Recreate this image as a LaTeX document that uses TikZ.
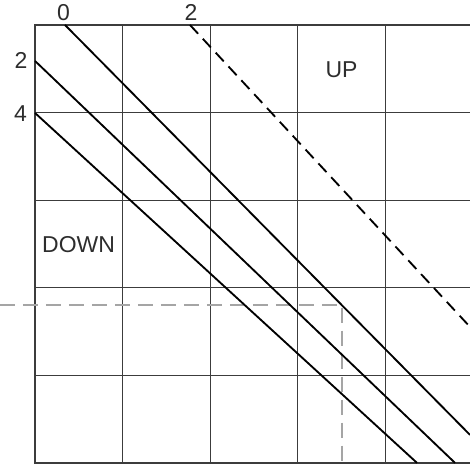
\documentclass[tikz,border=0pt]{standalone}
\usepackage{fontspec}
\setmainfont{Liberation Sans}
\usepackage{tikz}
\usetikzlibrary{positioning, calc}
\definecolor{gridgray}{RGB}{60,60,60}
\definecolor{guidegray}{RGB}{165,165,165}
\definecolor{labelgray}{RGB}{45,45,45}

\begin{document}
\begin{tikzpicture}[x=1.5cm, y=1.5cm,
    cell/.style={gridgray, line width=0.6pt},
    frame/.style={gridgray, line width=1pt},
    level/.style={black, line width=0.9pt},
    levelfar/.style={black, line width=0.9pt, dash pattern=on 5.8pt off 3.4pt},
    guide/.style={guidegray, line width=0.6pt, dash pattern=on 7.3pt off 3.9pt},
    tag/.style={labelgray, font=\fontsize{11.2}{13}\selectfont, inner sep=0pt}]
  \useasboundingbox (-0.4,-0.034) rectangle (4.966,5.285);
  \clip (-0.4,-0.034) rectangle (4.966,5.285);
  % Grid
  \foreach \i in {1,...,4} {
    \draw[cell] (\i,0) -- (\i,5);
    \draw[cell] (0,\i) -- (5,\i);
  }
  \draw[frame] (5,5) -- (0,5) -- (0,0) -- (5,0);
  % Guide lines
  \coordinate (g0) at (-0.4,1.804);
  \coordinate (g1) at (3.505,1.804);
  \coordinate (g2) at (3.505,-0.05);
  \draw[guide] (g0) -- (g1) -- (g2);
  % Diagonal levels
  \coordinate (a0) at (0.342,5);   \coordinate (a1) at (4.966,0.32);
  \coordinate (b0) at (0,4.589);   \coordinate (b1) at (4.795,0);
  \coordinate (c0) at (0,3.995);   \coordinate (c1) at (4.361,0);
  \coordinate (d0) at (1.769,5);   \coordinate (d1) at (4.966,1.553);
  \draw[level] (a0) -- (a1);
  \draw[level] (b0) -- (b1);
  \draw[level] (c0) -- (c1);
  \draw[levelfar] (d0) -- (d1);
  % Labels
  \node[tag] (top0) at (0.325,5.14) {0};
  \node[tag] (top2) at (1.78,5.14) {2};
  \node[tag] (left2) at (-0.16,4.589) {2};
  \node[tag] (left4) at (-0.165,3.99) {4};
  \node[tag] (up) at (3.5,4.49) {UP};
  \node[tag] (down) at (0.497,2.49) {DOWN};
\end{tikzpicture}
\end{document}
